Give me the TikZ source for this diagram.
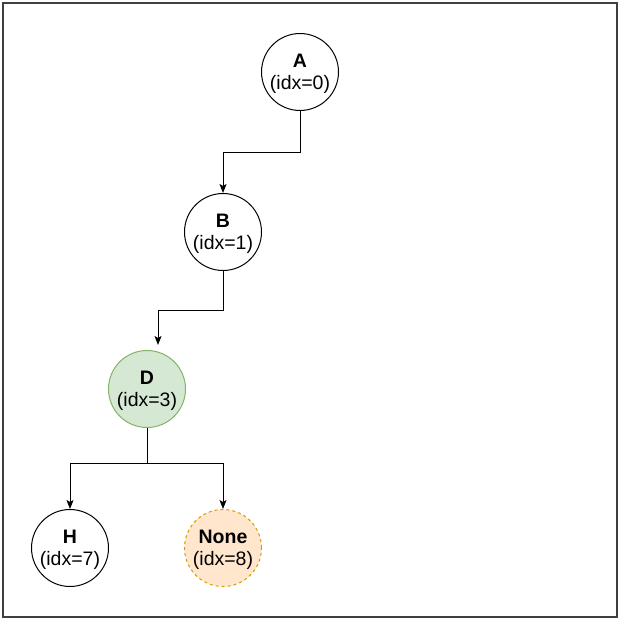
\documentclass[tikz,border=0pt]{standalone}
\usepackage{fontspec}
\setmainfont{Liberation Sans}
\usetikzlibrary{arrows.meta}
\definecolor{dfill}{HTML}{D5E8D4}
\definecolor{dline}{HTML}{82B366}
\definecolor{nfill}{HTML}{FFE6CC}
\definecolor{nline}{HTML}{D79B00}
\tikzset{
  tnode/.style={circle, draw=black, line width=1pt, minimum size=77pt, inner sep=0pt, align=center, font=\fontsize{19.5}{22}\selectfont, text depth=0pt},
  conn/.style={line width=1pt, -{Stealth[length=9pt,width=7pt,inset=2pt]}},
}
\begin{document}
\begin{tikzpicture}[x=1pt,y=-1pt]
\useasboundingbox (0,0) rectangle (621,621);
\draw[line width=1.2pt, draw=black!75] (3,3) rectangle (617,617);
\node[tnode] (A) at (300,72) {\textbf{A}\\(idx=0)};
\node[tnode] (B) at (223,232) {\textbf{B}\\(idx=1)};
\node[tnode, fill=dfill, draw=dline] (D) at (147,389) {\textbf{D}\\(idx=3)};
\node[tnode] (H) at (70,548) {\textbf{H}\\(idx=7)};
\node[tnode, fill=nfill, draw=nline, dashed] (N) at (223,548) {\textbf{None}\\(idx=8)};
\coordinate (dtop) at (158,345);
\draw[conn] (A.south) -- (300,152) -| (B.north);
\draw[conn] (B.south) -- (223,310) -| (dtop);
\draw[conn] (D.south) -- (147,463) -| (H.north);
\draw[conn] (D.south) -- (147,463) -| (N.north);
\end{tikzpicture}
\end{document}
